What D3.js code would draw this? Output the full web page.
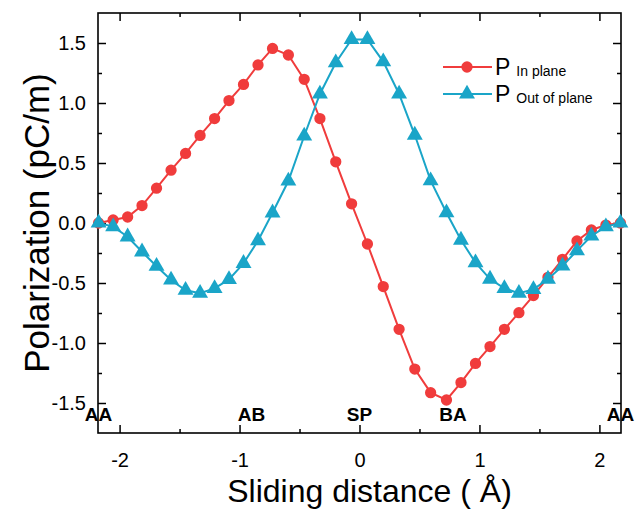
<!DOCTYPE html>
<html><head><meta charset="utf-8">
<script src="https://cdn.jsdelivr.net/npm/d3@7"></script>
<style>body{margin:0;background:#fff}svg{display:block}text{font-family:"Liberation Sans",Arial,sans-serif}</style>
</head><body>
<script>
const xs = [-2.175,-2.054,-1.933,-1.813,-1.692,-1.571,-1.450,-1.329,-1.208,-1.088,-0.967,-0.846,-0.725,-0.593,-0.461,-0.330,-0.198,-0.066,0.066,0.198,0.330,0.461,0.593,0.725,0.846,0.967,1.088,1.208,1.329,1.450,1.571,1.692,1.813,1.933,2.054,2.175];
const pIn = [0.0,0.025,0.05,0.145,0.29,0.44,0.58,0.73,0.87,1.02,1.155,1.317,1.455,1.40,1.197,0.87,0.51,0.16,-0.175,-0.53,-0.886,-1.217,-1.414,-1.475,-1.33,-1.17,-1.03,-0.886,-0.747,-0.605,-0.453,-0.303,-0.15,-0.058,-0.017,0.0];
const pOut = [0.0,-0.03,-0.115,-0.24,-0.36,-0.475,-0.56,-0.585,-0.545,-0.47,-0.336,-0.147,0.085,0.35,0.725,1.075,1.336,1.53,1.53,1.345,1.075,0.733,0.353,0.086,-0.142,-0.33,-0.467,-0.545,-0.585,-0.553,-0.467,-0.358,-0.23,-0.108,-0.03,0.0];
const seriesNames = ["In plane","Out of plane"];
const siteLabels = ["AA","AB","SP","BA","AA"];
const sitePos = [-2.175,-0.9,0,0.78,2.175];
const xMajor = [-2,-1,0,1,2];
const xMinor = [-1.5,-0.5,0.5,1.5];
const yMajor = [-1.5,-1.0,-0.5,0.0,0.5,1.0,1.5];
const yMinor = [-1.25,-0.75,-0.25,0.25,0.75,1.25];

const W=640,H=510,L=98,R=621,T=13,B=433;
const red="#f03c3c", blue="#1aa5c8";
const svg=d3.select("body").append("svg").attr("width",W).attr("height",H);
const x=d3.scaleLinear().domain([-2.18,2.18]).range([L,R]);
const y=d3.scaleLinear().domain([-1.75,1.75]).range([B,T]);

function axisG(gen, tr){ return svg.append("g").attr("transform",tr).call(gen); }
const fmtY=d=>d.toFixed(1);
const fmtX=d=>String(d);
axisG(d3.axisBottom(x).tickValues(xMajor).tickSize(-8).tickPadding(20).tickFormat(fmtX),`translate(0,${B})`);
axisG(d3.axisBottom(x).tickValues(xMinor).tickSize(-4).tickFormat(""),`translate(0,${B})`);
axisG(d3.axisTop(x).tickValues(xMajor).tickSize(-8).tickFormat(""),`translate(0,${T})`);
axisG(d3.axisTop(x).tickValues(xMinor).tickSize(-4).tickFormat(""),`translate(0,${T})`);
axisG(d3.axisLeft(y).tickValues(yMajor).tickSize(-8).tickPadding(12).tickFormat(fmtY),`translate(${L},0)`);
axisG(d3.axisLeft(y).tickValues(yMinor).tickSize(-4).tickFormat(""),`translate(${L},0)`);
axisG(d3.axisRight(y).tickValues(yMajor).tickSize(-8).tickFormat(""),`translate(${R},0)`);
axisG(d3.axisRight(y).tickValues(yMinor).tickSize(-4).tickFormat(""),`translate(${R},0)`);
svg.selectAll(".domain").remove();
svg.selectAll(".tick line").attr("stroke","#000").attr("stroke-width",1.5);
svg.selectAll(".tick text").attr("font-size",20).attr("fill","#000").style("font-family","Liberation Sans, Arial, sans-serif");
svg.append("rect").attr("x",L).attr("y",T).attr("width",R-L).attr("height",B-T).attr("fill","none").attr("stroke","#000").attr("stroke-width",1.6);

// site labels
svg.append("g").selectAll("text").data(siteLabels).join("text")
 .attr("x",(d,i)=>x(sitePos[i])).attr("y",B-12).attr("text-anchor","middle")
 .attr("font-size",19).attr("font-weight","bold").text(d=>d);

const line=d3.line().x((d,i)=>x(xs[i])).y(d=>y(d));
function series(vals,color,shape){
  svg.append("path").datum(vals).attr("d",line).attr("fill","none").attr("stroke",color).attr("stroke-width",2);
  svg.append("g").selectAll("path").data(vals).join("path")
   .attr("transform",(d,i)=>`translate(${x(xs[i])},${y(d)})`)
   .attr("d",d3.symbol().type(shape).size(shape===d3.symbolCircle?100:110))
   .attr("fill",color);
}
series(pIn,red,d3.symbolCircle);
series(pOut,blue,d3.symbolTriangle);

// legend
const leg=[{c:red,s:d3.symbolCircle,sz:100,yy:67},{c:blue,s:d3.symbolTriangle,sz:110,yy:94}];
leg.forEach((l,i)=>{
  svg.append("line").attr("x1",443).attr("x2",492).attr("y1",l.yy).attr("y2",l.yy).attr("stroke",l.c).attr("stroke-width",2);
  svg.append("path").attr("transform",`translate(467,${l.yy})`).attr("d",d3.symbol().type(l.s).size(l.sz)).attr("fill",l.c);
  const t=svg.append("text").attr("x",495).attr("y",l.yy+8);
  t.append("tspan").attr("font-size",23).text("P");
  t.append("tspan").attr("font-size",14).attr("dx",6).attr("dy",1).text(seriesNames[i]);
});

// titles
svg.append("text").attr("x",(L+R)/2+10).attr("y",502).attr("text-anchor","middle").attr("font-size",32).text("Sliding distance ( Å)");
svg.append("text").attr("transform",`translate(49,${(T+B)/2}) rotate(-90)`).attr("text-anchor","middle").attr("font-size",35).text("Polarization (pC/m)");
</script>
</body></html>
